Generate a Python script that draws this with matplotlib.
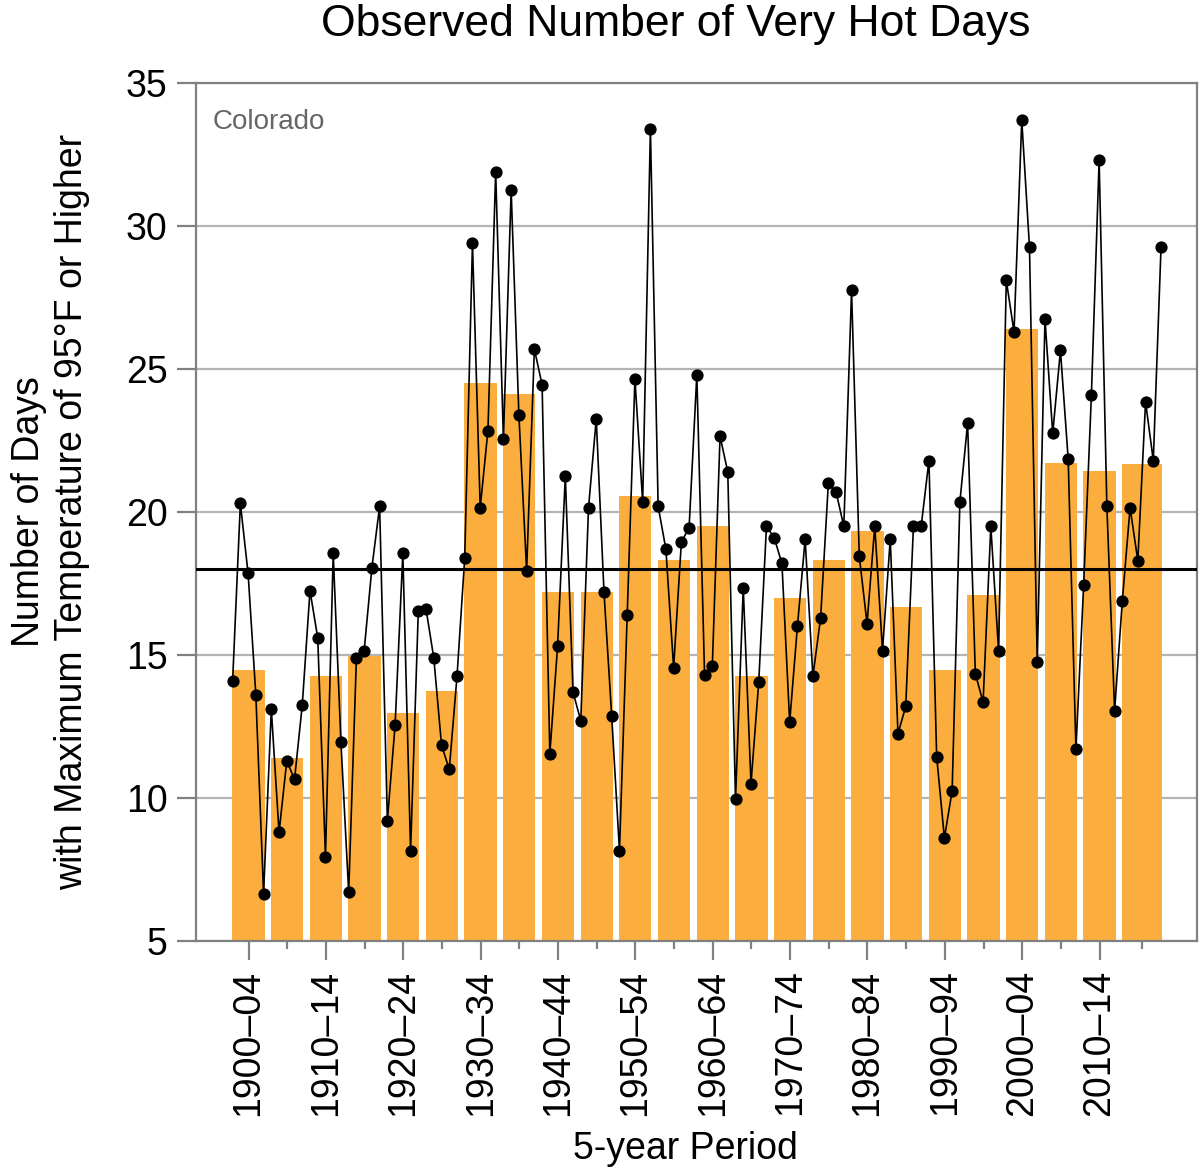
import numpy as np
import matplotlib
matplotlib.use('Agg')
import matplotlib.pyplot as plt

# annual number of days >= 95F, Colorado, 1900-2020
years = np.arange(1900, 2021)
hot_days = [
    14.1, 20.3, 17.85, 13.6, 6.65, 13.1, 8.8, 11.3, 10.65, 13.25,
    17.25, 15.6, 7.95, 18.55, 11.95, 6.7, 14.9, 15.15, 18.05, 20.2,
    9.2, 12.55, 18.55, 8.15, 16.55, 16.6, 14.9, 11.85, 11.0, 14.25,
    18.4, 29.4, 20.15, 22.85, 31.9, 22.55, 31.25, 23.4, 17.95, 25.7,
    24.45, 11.55, 15.3, 21.25, 13.7, 12.7, 20.15, 23.25, 17.2, 12.85,
    8.15, 16.4, 24.65, 20.35, 33.4, 20.2, 18.7, 14.55, 18.95, 19.45,
    24.8, 14.3, 14.6, 22.65, 21.4, 9.95, 17.35, 10.5, 14.05, 19.5,
    19.1, 18.2, 12.65, 16.0, 19.05, 14.25, 16.3, 21.0, 20.7, 19.5,
    27.75, 18.45, 16.1, 19.5, 15.15, 19.05, 12.25, 13.2, 19.5, 19.5,
    21.8, 11.45, 8.6, 10.25, 20.35, 23.1, 14.35, 13.35, 19.5, 15.15,
    28.1, 26.3, 33.7, 29.25, 14.75, 26.75, 22.75, 25.65, 21.85, 11.7,
    17.45, 24.1, 32.3, 20.2, 13.05, 16.9, 20.15, 18.3, 23.85, 21.8, 29.25,
]

# 5-year period averages (last period is 2015-2020)
period_start = [1900, 1905, 1910, 1915, 1920, 1925, 1930, 1935, 1940, 1945, 1950, 1955,
                1960, 1965, 1970, 1975, 1980, 1985, 1990, 1995, 2000, 2005, 2010, 2015]
period_len = [5] * 23 + [6]
period_avg = [14.46, 11.40, 14.25, 14.98, 12.97, 13.74, 24.52, 24.14, 17.22, 17.22, 20.57, 18.33,
              19.52, 14.25, 16.99, 18.33, 19.35, 16.67, 14.48, 17.09, 26.40, 21.72, 21.42, 21.69]
tick_labels = ['1900–04', '1910–14', '1920–24', '1930–34', '1940–44', '1950–54',
               '1960–64', '1970–74', '1980–84', '1990–94', '2000–04', '2010–14']
long_term_avg = 18.0

plt.rcParams['font.family'] = ['Liberation Sans', 'DejaVu Sans']

fig = plt.figure(figsize=(12, 11.73), dpi=100)
ax = fig.add_axes([0.1633, 0.1978, 0.8342, 0.7314])

left = np.array(period_start) - 0.03
width = np.array(period_len) - 0.83
centers = left + width / 2

ax.bar(left, period_avg, width=width, align='edge', color='#FBAE3D', zorder=2)
ax.axhline(long_term_avg, color='black', linewidth=2.2, zorder=3)
ax.plot(years, hot_days, color='black', linewidth=1.2, marker='o', markersize=7.8, zorder=4)

ax.set_xlim(1895.26, 2024.65)
ax.set_ylim(5, 35)
ax.set_yticks([5, 10, 15, 20, 25, 30, 35])
ax.yaxis.grid(True, color='#b4b4b4', linewidth=1.6, zorder=0)
ax.set_axisbelow(True)

ax.set_xticks(centers[::2])
ax.set_xticklabels(tick_labels, rotation=90)
ax.set_xticks(centers[1::2], minor=True)

for s in ax.spines.values():
    s.set_color('#808080')
    s.set_linewidth(1.6)

ax.tick_params(axis='both', which='major', length=13.5, width=1.6, color='#808080',
               labelsize=27, pad=7)
ax.tick_params(axis='x', which='minor', length=6, width=1.6, color='#808080')

ax.text(0.017, 0.97, 'Colorado', transform=ax.transAxes, ha='left', va='top',
        fontsize=20, color='#666666', fontstretch='condensed',
        family=['Liberation Sans Narrow', 'Liberation Sans', 'DejaVu Sans'])

ax.set_title('Observed Number of Very Hot Days', fontsize=32, pad=34, x=0.479)
ax.set_xlabel('5-year Period', fontsize=27)
ax.xaxis.set_label_coords(0.4885, -0.222)
ax.set_ylabel('Number of Days\nwith Maximum Temperature of 95°F or Higher', fontsize=27,
              labelpad=26, linespacing=1.25)

fig.savefig('out.png', dpi=100)
